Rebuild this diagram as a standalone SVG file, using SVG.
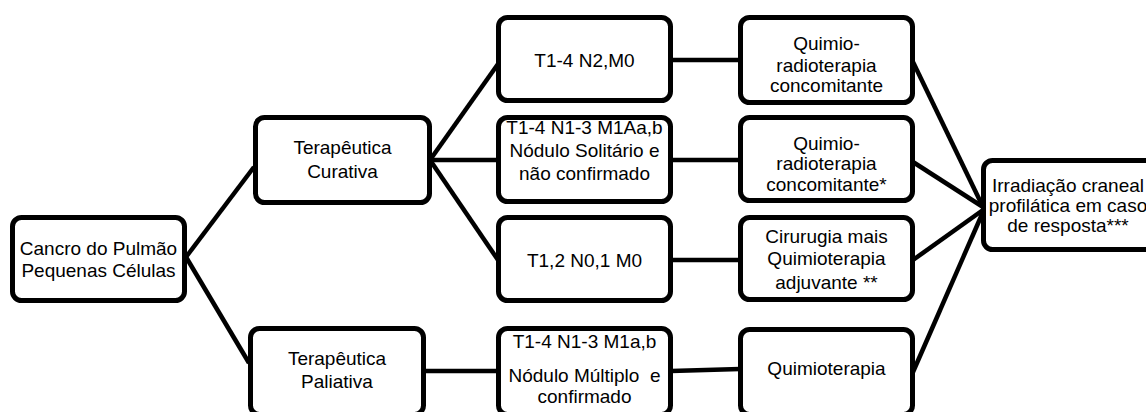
<svg xmlns="http://www.w3.org/2000/svg" width="1146" height="412" viewBox="0 0 1146 412">
<style>
.box{fill:#fff;stroke:#000;stroke-width:5}
.lnk{stroke:#000;stroke-width:4.5;fill:none}
text{font-family:"Liberation Sans",Arial,sans-serif;font-size:19px;fill:#000;text-anchor:middle}
</style>
<rect width="1146" height="412" fill="#fff"/>
<g id="connectors">
<line class="lnk" x1="186" y1="257" x2="254" y2="167"/>
<line class="lnk" x1="186" y1="257" x2="249" y2="363"/>
<line class="lnk" x1="430" y1="160" x2="498" y2="64"/>
<line class="lnk" x1="430" y1="160" x2="498" y2="160"/>
<line class="lnk" x1="430" y1="160" x2="498" y2="260"/>
<line class="lnk" x1="424" y1="371" x2="498" y2="371"/>
<line class="lnk" x1="671" y1="60" x2="740" y2="60"/>
<line class="lnk" x1="671" y1="160" x2="740" y2="160"/>
<line class="lnk" x1="671" y1="260" x2="740" y2="260"/>
<line class="lnk" x1="671" y1="371" x2="740" y2="369"/>
<line class="lnk" x1="913" y1="62" x2="983" y2="207"/>
<line class="lnk" x1="913" y1="162" x2="983" y2="207"/>
<line class="lnk" x1="913" y1="260" x2="983" y2="210"/>
<line class="lnk" x1="913" y1="372" x2="983" y2="212"/>
</g>
<g id="cancro">
<rect class="box" x="12.5" y="217.5" width="172" height="83" rx="9"/>
<text x="98.5" y="255">Cancro do Pulmão</text>
<text x="98.5" y="277">Pequenas Células</text>
</g>
<g id="curativa">
<rect class="box" x="255.5" y="117.5" width="174" height="85" rx="9"/>
<text x="342.5" y="154">Terapêutica</text>
<text x="342.5" y="178">Curativa</text>
</g>
<g id="paliativa">
<rect class="box" x="250.5" y="328.5" width="173" height="86" rx="9"/>
<text x="337" y="365">Terapêutica</text>
<text x="337" y="388">Paliativa</text>
</g>
<g id="t14n2">
<rect class="box" x="498.5" y="17.5" width="172" height="83" rx="9"/>
<text x="584.5" y="67">T1-4 N2,M0</text>
</g>
<g id="t14n13a">
<rect class="box" x="498.5" y="117.5" width="172" height="84" rx="9"/>
<text x="584.5" y="134">T1-4 N1-3 M1Aa,b</text>
<text x="584.5" y="157">Nódulo Solitário e</text>
<text x="584.5" y="180">não confirmado</text>
</g>
<g id="t12n01">
<rect class="box" x="498.5" y="217.5" width="172" height="83" rx="9"/>
<text x="584.5" y="267">T1,2 N0,1 M0</text>
</g>
<g id="t14n13b">
<rect class="box" x="498.5" y="328.5" width="172" height="86" rx="9"/>
<text x="584.5" y="348">T1-4 N1-3 M1a,b</text>
<text x="584.5" y="382" xml:space="preserve">Nódulo Múltiplo  e</text>
<text x="584.5" y="403">confirmado</text>
</g>
<g id="quimio1">
<rect class="box" x="740.5" y="17.5" width="172" height="85" rx="9"/>
<text x="826.5" y="50">Quimio-</text>
<text x="826.5" y="72">radioterapia</text>
<text x="826.5" y="92">concomitante</text>
</g>
<g id="quimio2">
<rect class="box" x="740.5" y="117.5" width="172" height="83" rx="9"/>
<text x="826.5" y="150">Quimio-</text>
<text x="826.5" y="170">radioterapia</text>
<text x="826.5" y="191">concomitante*</text>
</g>
<g id="cirurgia">
<rect class="box" x="740.5" y="217.5" width="172" height="82" rx="9"/>
<text x="826.5" y="243">Cirurugia mais</text>
<text x="826.5" y="265">Quimioterapia</text>
<text x="826.5" y="289">adjuvante **</text>
</g>
<g id="quimioterapia">
<rect class="box" x="740.5" y="329.5" width="172" height="85" rx="9"/>
<text x="826.5" y="375">Quimioterapia</text>
</g>
<g id="irradiacao">
<rect class="box" x="983.5" y="160.5" width="175" height="89" rx="9"/>
<text x="1068" y="192">Irradiação craneal</text>
<text x="1068" y="212">profilática em caso</text>
<text x="1068" y="232">de resposta***</text>
</g>
</svg>
